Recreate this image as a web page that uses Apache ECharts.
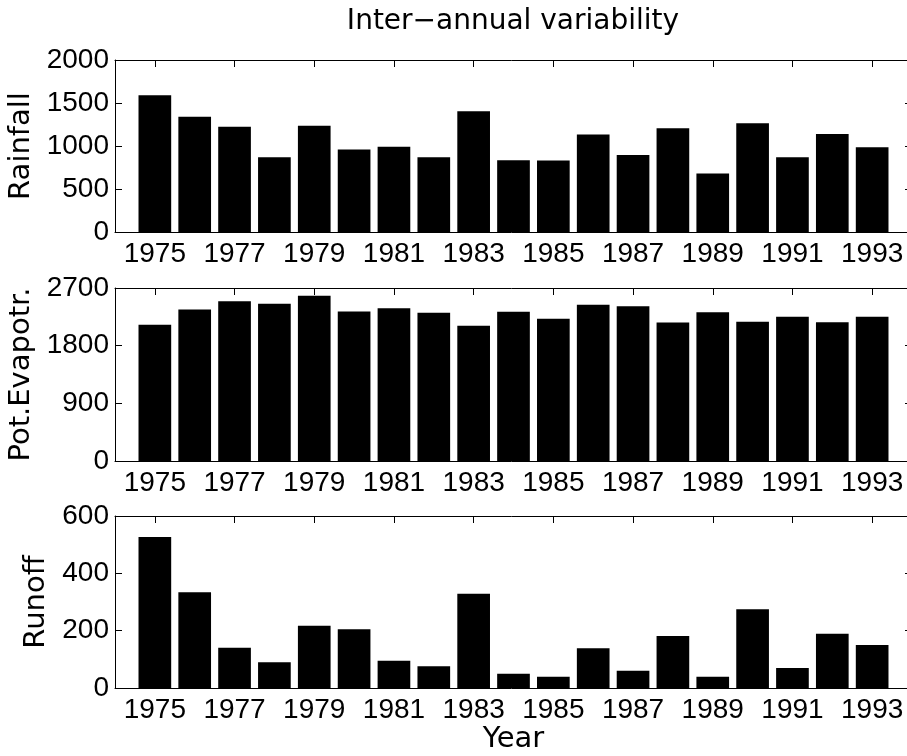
<!DOCTYPE html>
<html>
<head>
<meta charset="utf-8">
<script src="https://cdn.jsdelivr.net/npm/echarts@6/dist/echarts.min.js"></script>
<style>
html,body{margin:0;padding:0;background:#fff;overflow:hidden;}
#chart{width:907px;height:756px;}
</style>
</head>
<body>
<div id="chart"></div>
<script>
const years = [1975,1976,1977,1978,1979,1980,1981,1982,1983,1984,1985,1986,1987,1988,1989,1990,1991,1992,1993];
const tickYears = [1975,1977,1979,1981,1983,1985,1987,1989,1991,1993];
const axisRange = [1974, 1994];
const rainfall = [1590,1340,1225,870,1235,960,990,870,1405,835,830,1135,895,1205,680,1265,870,1140,985];
const potEvap = [2126,2365,2494,2453,2578,2334,2385,2313,2110,2329,2220,2438,2416,2162,2323,2173,2251,2167,2251];
const runoff = [527,334,140,90,217,205,95,76,329,50,39,139,60,181,39,275,70,189,150];

const rainTicks = [0,500,1000,1500,2000];
const petTicks = [0,900,1800,2700];
const runoffTicks = [0,200,400,600];

const titleText = 'Inter\u2212annual variability';
const yNames = ['Rainfall','Pot.Evapotr.','Runoff'];
const xName = 'Year';

// category axis spanning the axis range (padding ends carry no bar)
const cats = [String(axisRange[0])].concat(years.map(String), [String(axisRange[1])]);
function pad(arr){ return [null].concat(arr, [null]); }
const isTick = (i, v) => tickYears.indexOf(+v) >= 0;

const tickFont = {fontFamily:'Liberation Sans', fontSize:28, color:'#000'};
const nameFont = {fontFamily:'DejaVu Sans', fontSize:29, color:'#000'};

const panels = [
  {top:60, height:172, data:rainfall, ticks:rainTicks, name:yNames[0], gap:77},
  {top:288, height:173, data:potEvap, ticks:petTicks, name:yNames[1], gap:77},
  {top:516, height:172, data:runoff, ticks:runoffTicks, name:yNames[2], gap:53}
];

const grid = [], xAxis = [], yAxis = [], series = [];
panels.forEach((p, k) => {
  grid.push({left:115, width:797, top:p.top, height:p.height, show:false,
             containLabel:false, outerBoundsMode:'none'});
  const lineStyle = {color:'#000', width:1};
  xAxis.push({
    type:'category', gridIndex:k, data:cats, boundaryGap:false, position:'bottom',
    axisLine:{show:true, onZero:false, lineStyle},
    axisTick:{show:true, inside:true, length:7, interval:isTick, lineStyle},
    axisLabel:{show:true, interval:isTick, margin:8, ...tickFont},
    splitLine:{show:false},
    name: k === 2 ? xName : '', nameLocation:'middle', nameGap:37, nameTextStyle:nameFont
  });
  xAxis.push({
    type:'category', gridIndex:k, data:cats, boundaryGap:false, position:'top',
    axisLine:{show:true, onZero:false, lineStyle},
    axisTick:{show:true, inside:true, length:7, interval:isTick, lineStyle},
    axisLabel:{show:false}, splitLine:{show:false}
  });
  const mx = p.ticks[p.ticks.length-1], iv = p.ticks[1] - p.ticks[0];
  yAxis.push({
    type:'value', gridIndex:k, min:p.ticks[0], max:mx, interval:iv, position:'left',
    axisLine:{show:true, onZero:false, lineStyle},
    axisTick:{show:true, inside:true, length:7, lineStyle},
    axisLabel:{show:true, margin:6, formatter:(v)=>String(v), ...tickFont},
    splitLine:{show:false},
    name:p.name, nameLocation:'middle', nameGap:p.gap, nameTextStyle:nameFont
  });
  yAxis.push({
    type:'value', gridIndex:k, min:p.ticks[0], max:mx, interval:iv, position:'right',
    axisLine:{show:true, onZero:false, lineStyle},
    axisTick:{show:true, inside:true, length:7, lineStyle},
    axisLabel:{show:false}, splitLine:{show:false}
  });
  series.push({
    type:'bar', xAxisIndex:2*k, yAxisIndex:2*k, data:pad(p.data),
    barWidth:'82%', itemStyle:{color:'#000'}, silent:true
  });
});

const chart = echarts.init(document.getElementById('chart'), null, {renderer:'canvas'});
chart.setOption({
  backgroundColor:'#fff',
  animation:false,
  title:{text:titleText, left:513, top:8, padding:0, textAlign:'center',
    textStyle:{fontFamily:'DejaVu Sans', fontSize:28, fontWeight:'normal', color:'#000'}},
  grid, xAxis, yAxis, series
});
</script>
</body>
</html>
